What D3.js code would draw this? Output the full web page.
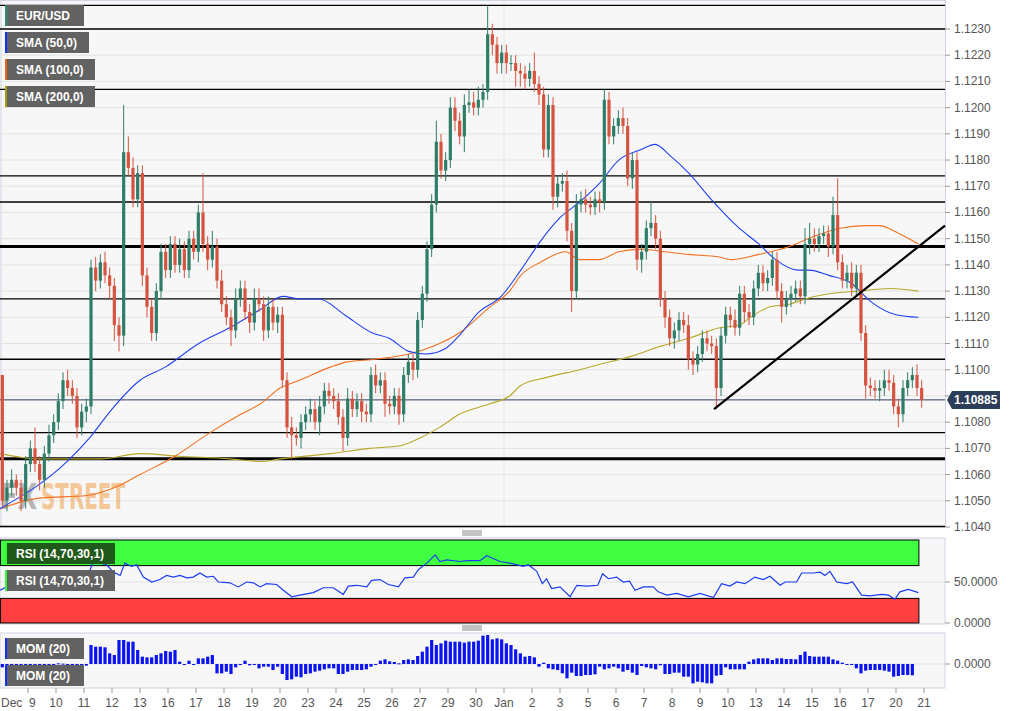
<!DOCTYPE html>
<html><head><meta charset="utf-8">
<script src="https://cdn.jsdelivr.net/npm/d3@7"></script>
<style>body{margin:0;background:#fff;}svg{display:block;font-family:"Liberation Sans",Arial,sans-serif;}</style>
</head><body><svg id="c" width="1016" height="711"></svg>
<script>
const firstOpen = 1.1098;
const closes = [
1.1050,1.1055,1.1058,1.1055,1.1050,1.1064,
1.1070,1.1064,1.1058,1.1068,1.1075,1.1080,
1.1088,1.1096,1.1093,1.1090,1.1078,1.1084,
1.1086,1.1139,1.1134,1.1141,1.1136,1.1132,
1.1117,1.1113,1.1183,1.1177,1.1165,1.1175,
1.1136,1.1124,1.1114,1.1130,1.1145,1.1138,
1.1148,1.1140,1.1146,1.1138,1.1150,1.1145,
1.1160,1.1148,1.1142,1.1147,1.1134,1.1125,
1.1120,1.1115,1.1127,1.1131,1.1122,1.1118,
1.1127,1.1125,1.1115,1.1124,1.1118,1.1121,
1.1096,1.1078,1.1075,1.1074,1.1080,1.1083,
1.1085,1.1080,1.1086,1.1092,1.1090,1.1088,
1.1082,1.1074,1.1089,1.1085,1.1088,1.1084,
1.1083,1.1098,1.1094,1.1096,1.1087,1.1086,
1.1090,1.1083,1.1098,1.1103,1.1100,1.1119,
1.1129,1.1146,1.1163,1.1187,1.1176,1.1180,
1.1200,1.1195,1.1189,1.1201,1.1202,1.1200,
1.1203,1.1206,1.1228,1.1224,1.1217,1.1221,
1.1217,1.1217,1.1214,1.1213,1.1211,1.1214,
1.1209,1.1205,1.1184,1.1201,1.1166,1.1171,
1.1172,1.1153,1.1130,1.1163,1.1165,1.1163,
1.1162,1.1165,1.1164,1.1203,1.1189,1.1193,
1.1196,1.1193,1.1173,1.1180,1.1142,1.1145,
1.1154,1.1156,1.1150,1.1127,1.1120,1.1112,
1.1115,1.1119,1.1117,1.1104,1.1102,1.1106,
1.1112,1.1110,1.1109,1.1093,1.1113,1.1121,
1.1119,1.1116,1.1129,1.1122,1.1120,1.1131,
1.1137,1.1133,1.1135,1.1142,1.1130,1.1124,
1.1127,1.1129,1.1131,1.1128,1.1148,1.1150,
1.1148,1.1151,1.1152,1.1147,1.1159,1.1141,
1.1134,1.1137,1.1131,1.1137,1.1114,1.1094,
1.1093,1.1092,1.1093,1.1096,1.1095,1.1086,
1.1083,1.1093,1.1096,1.1098,1.1093,1.10885];
const wickUpPips = [
0,3,4,2,3,3, 3,8,3,3,4,3, 3,3,4,3,3,3, 3,3,4,3,4,3, 3,3,18,6,4,3, 3,3,3,3,3,3,
3,3,4,3,3,3, 3,15,3,6,3,4, 3,3,4,3,3,3, 4,4,3,4,3,3, 3,3,4,3,3,3, 4,3,4,3,3,3,
3,3,4,3,3,3, 3,3,4,3,3,3, 3,3,3,3,3,3, 3,3,4,8,3,3, 4,4,3,4,5,4, 5,3,11,4,3,3,
3,3,3,3,3,3, 7,3,3,4,3,3, 3,4,3,4,3,4, 3,3,3,4,3,3, 3,4,3,3,3,3, 3,8,3,3,3,3,
3,3,3,4,3,3, 3,3,3,3,3,3, 3,4,3,3,3,3, 3,3,3,3,3,3, 3,3,3,3,6,6, 4,3,3,3,7,14,
3,3,4,3,3,3, 3,3,3,4,4,3, 3,3,3,3,4,3];
const wickDnPips = [
2,4,3,3,4,3, 3,3,4,3,3,3, 3,3,3,3,4,3, 4,3,4,3,3,5, 6,6,4,3,3,3, 4,4,3,3,3,3,
3,3,3,3,3,3, 4,3,4,3,3,3, 3,6,3,3,3,4, 3,3,4,3,3,4, 3,4,9,3,4,3, 3,3,5,3,3,3,
3,5,3,3,3,4, 3,3,3,3,5,3, 3,4,3,3,4,3, 3,3,3,3,3,4, 3,4,3,6,3,3, 3,3,3,4,4,4,
4,3,6,5,4,3, 3,4,3,3,5,4, 3,4,8,3,3,3, 3,3,4,3,3,3, 3,3,3,4,4,5, 3,3,4,3,4,3,
4,4,3,4,4,3, 3,3,3,8,3,3, 3,3,3,4,3,3, 3,3,3,3,3,6, 3,3,3,3,3,4, 3,3,3,4,3,3,
3,3,3,3,3,5, 3,3,4,3,3,3, 5,3,3,3,3,3];

const sma50Day = [0,2.4,3.2,4.0,5.0,5.9,7.1,8.2,9.3,10.1,10.7,11.4,12.3,13.3,13.9,14.6,15.2,15.9,16.4,17.1,17.9,18.6,19.3,20.0,20.7,21.4,22.1,22.9,23.4,23.9,24.6,25.4,26.4,27.1,27.7,28.5,28.9,29.6,30.4,31.1,32.0,32.8];
const sma50Val = [1.1047,1.1065,1.1074,1.1085,1.1096,1.1101,1.1110,1.1116,1.1123,1.1128,1.1127,1.1127,1.1121,1.1114,1.1112,1.1107,1.1106,1.1108,1.1113,1.1122,1.1128,1.1138,1.1149,1.1158,1.1164,1.1171,1.1180,1.1184,1.1186,1.1182,1.1175,1.1165,1.1154,1.1148,1.1142,1.1138,1.1138,1.1136,1.1133,1.1126,1.1121,1.1120];
const sma100Day = [0,1.4,3.1,4.3,5.0,6.25,7.5,8.6,9.3,10.0,10.7,11.8,12.4,13.4,14.6,15.7,16.4,17.5,18.2,18.6,19.3,20.2,20.7,21.4,22.1,22.9,23.75,24.6,25.7,26.1,27.1,28.2,29.1,30.0,30.9,31.4,32.1,32.8];
const sma100Val = [1.1047,1.1051,1.1052,1.1056,1.1060,1.1067,1.1076,1.1083,1.1087,1.1093,1.1096,1.1101,1.1103,1.1104,1.1106,1.1110,1.1114,1.1124,1.1130,1.1136,1.1141,1.1145,1.1142,1.1142,1.1145,1.1146,1.1145,1.1144,1.1143,1.1142,1.1144,1.1147,1.1151,1.1154,1.1155,1.1155,1.1152,1.1148];
const sma200Day = [0,1.4,3.6,5.0,6.4,8.2,9.3,10.0,11.8,13.2,14.3,15.0,15.7,16.4,17.5,18.2,18.6,19.5,20.7,21.4,22.5,23.6,24.6,25.7,26.4,26.8,27.5,28.2,28.75,29.6,30.7,31.8,32.8];
const sma200Val = [1.1068,1.1066,1.1066,1.1068,1.1067,1.1066,1.1065,1.1066,1.1068,1.1070,1.1071,1.1074,1.1078,1.1083,1.1087,1.1090,1.1094,1.1097,1.1100,1.1102,1.1105,1.1109,1.1112,1.1116,1.1117,1.1120,1.1124,1.1125,1.1127,1.1129,1.1130,1.1131,1.1130];

const levels = [1.1239,1.1230,1.1207,1.1174,1.1164,1.1127,1.1104,1.1076];
const thickLevels = [1.1147,1.1066];
const lastPrice = 1.10885;
const trendDay = [25.5,33.75];
const trendVal = [1.1085,1.1155];
const priceTicks = [1.1040,1.1050,1.1060,1.1070,1.1080,1.1090,1.1100,1.1110,1.1120,1.1130,1.1140,1.1150,1.1160,1.1170,1.1180,1.1190,1.1200,1.1210,1.1220,1.1230];

const rsiDay = [0,.24,.54,.71,1.07,1.43,1.79,2.14,2.38,2.62,2.86,3.15,3.31,3.57,3.81,4.05,4.29,4.46,4.70,4.88,5.12,5.42,5.71,5.95,6.19,6.43,6.67,6.90,7.14,7.38,7.62,7.80,8.21,8.51,8.81,9.05,9.29,9.52,9.88,10.12,10.42,10.71,11.19,11.55,11.90,12.26,12.44,12.74,13.10,13.27,13.57,13.87,14.23,14.46,14.76,14.94,15.24,15.54,15.71,15.95,16.43,16.67,17.14,17.38,17.86,18.21,18.69,18.87,19.17,19.37,19.52,19.70,20.0,20.36,20.60,20.95,21.35,21.52,21.73,22.02,22.26,22.48,22.68,22.98,23.33,23.51,23.81,24.17,24.58,25.0,25.48,25.77,26.07,26.31,26.61,26.96,27.26,27.5,27.86,28.04,28.45,28.63,29.05,29.29,29.46,29.64,29.88,30.24,30.45,30.77,31.07,31.49,31.73,31.96,32.14,32.44,32.80];
const rsiVal = [40,44,43,49,50,50,56,61,62,61,55,58,74,73,71,62,58,73,69,71,56,50,53,58,56,58,55,56,61,56,57,50,49,44,50,49,44,48,47,40,32,34,37,43,43,35,45,46,44,52,53,47,44,55,56,65,73,83,75,77,75,76,76,82,75,73,69,71,63,48,54,42,44,32,46,45,46,60,54,56,50,51,40,44,44,38,34,36,32,36,31,48,45,50,48,56,53,57,46,50,50,61,61,62,58,63,50,48,50,34,33,35,34,29,38,41,37];

const momVals = [-10,-10,-12,-12,-8,-3,-2,-2,-12,-6,-8,-8,2,1,-1,-3,-6,-13,-5,
57,52,52,50,32,27,72,72,67,67,42,22,20,20,27,32,39,37,42,7,0,10,0,17,17,22,27,
-28,-28,-23,-30,-10,-1,10,-4,-2,-13,-8,-8,-18,-8,-30,-48,-46,-38,-40,-30,-28,-23,-20,-16,-13,-13,-30,-30,-23,-18,-18,-18,-16,-8,0,
10,14,8,6,2,12,14,12,24,37,52,72,57,62,70,67,67,67,64,67,67,70,85,87,74,77,
74,62,57,44,32,22,24,20,-8,4,-13,-16,-18,-28,-43,-26,-36,-36,-33,-33,-31,-8,-16,-13,-8,-13,-23,-18,-26,-33,-6,-10,-13,-16,-4,-30,-30,-26,-26,-38,-38,-58,-53,-55,-58,-58,-35,-33,-10,-16,-16,-16,-16,7,14,17,17,17,12,17,17,15,15,14,27,37,24,22,22,22,22,14,10,4,-3,-2,-13,-28,-20,-18,-18,-18,-20,-23,-38,-36,-33,-33,-34];

const dayLabels = ["Dec  9","10","11","12","13","16","17","18","19","20","23","24","25","26","27","29","30","Jan","2","3","5","6","7","8","9","10","13","14","15","16","17","20","21"];

const svg = d3.select("#c");
const W = 945;
const x = d3.scaleLinear().domain([0,33.75]).range([0,W]);
const y = d3.scaleLinear().domain([1.1040,1.1230]).range([527,29]);
const GREEN="#2e7d68", RED="#d5533f", BG="#f7f7f7", GRID="#e3e3e3", BORDER="#cfd4e2";

svg.append("rect").attr("x",0).attr("y",0).attr("width",W).attr("height",528).attr("fill",BG);
svg.append("line").attr("x1",0).attr("x2",W+1).attr("y1",0.5).attr("y2",0.5).attr("stroke",BORDER);
svg.append("line").attr("x1",1).attr("x2",1).attr("y1",0).attr("y2",528).attr("stroke",BORDER);
svg.selectAll(".g").data(priceTicks).join("line").attr("x1",0).attr("x2",W).attr("y1",d=>y(d)).attr("y2",d=>y(d)).attr("stroke",GRID);
svg.append("line").attr("x1",x(18)).attr("x2",x(18)).attr("y1",0).attr("y2",527).attr("stroke","#e6e6e6");
svg.append("line").attr("x1",W+0.5).attr("x2",W+0.5).attr("y1",0).attr("y2",528).attr("stroke",BORDER);

const wmFont = "'DejaVu Sans Condensed','Liberation Sans Narrow',sans-serif";
svg.append("text").attr("x",0).attr("y",509).attr("font-size",35).attr("font-weight","bold").attr("font-family",wmFont)
  .attr("opacity",0.6).attr("fill","#8a8a8a").attr("textLength",37).attr("lengthAdjust","spacingAndGlyphs").text("FX");
svg.append("text").attr("x",41).attr("y",509).attr("font-size",35).attr("font-weight","bold").attr("font-family",wmFont)
  .attr("opacity",0.55).attr("fill","#f0a04b").attr("textLength",84).attr("lengthAdjust","spacingAndGlyphs").text("STREET");

svg.selectAll(".lv").data(levels).join("line").attr("x1",0).attr("x2",W).attr("y1",d=>y(d)).attr("y2",d=>y(d)).attr("stroke","#000").attr("stroke-width",1.3);
svg.selectAll(".tl").data(thickLevels).join("line").attr("x1",0).attr("x2",W).attr("y1",d=>y(d)).attr("y2",d=>y(d)).attr("stroke","#000").attr("stroke-width",3);
svg.append("line").attr("x1",0).attr("x2",W).attr("y1",y(1.1040)-0.5).attr("y2",y(1.1040)-0.5).attr("stroke","#000").attr("stroke-width",1.3);
svg.append("line").attr("x1",0).attr("x2",W).attr("y1",y(lastPrice)).attr("y2",y(lastPrice)).attr("stroke","#2c3e5a").attr("stroke-width",1);

function smaLine(days, vals, color){
  const pts = days.map((d,i)=>[x(d),y(vals[i])]);
  svg.append("path").attr("d",d3.line().curve(d3.curveMonotoneX)(pts)).attr("fill","none").attr("stroke",color).attr("stroke-width",1.1);
}
smaLine(sma200Day,sma200Val,"#b8a828");
smaLine(sma100Day,sma100Val,"#f07020");
smaLine(sma50Day,sma50Val,"#2040f0");

const candles = closes.map((c,i)=>{
  const o = i===0?firstOpen:closes[i-1];
  return {i,o,c,h:Math.max(o,c)+wickUpPips[i]*0.0001,l:Math.min(o,c)-wickDnPips[i]*0.0001};
});
const cx = i => x((i+0.5)/6);
const cg = svg.append("g");
cg.selectAll("line").data(candles).join("line").attr("x1",d=>cx(d.i)).attr("x2",d=>cx(d.i)).attr("y1",d=>y(d.h)).attr("y2",d=>y(d.l)).attr("stroke",d=>d.c>=d.o?GREEN:RED).attr("stroke-width",1);
cg.selectAll("rect").data(candles).join("rect").attr("x",d=>cx(d.i)-1.6).attr("width",3.2).attr("y",d=>y(Math.max(d.o,d.c))).attr("height",d=>Math.max(1,y(Math.min(d.o,d.c))-y(Math.max(d.o,d.c)))).attr("fill",d=>d.c>=d.o?GREEN:RED);

svg.append("line").attr("x1",x(trendDay[0])).attr("y1",y(trendVal[0])).attr("x2",x(trendDay[1])).attr("y2",y(trendVal[1])).attr("stroke","#000").attr("stroke-width",2.2);

const ax = svg.append("g").attr("font-size",12).attr("fill","#555");
priceTicks.forEach(p=>{
  ax.append("line").attr("x1",W).attr("x2",W+5).attr("y1",y(p)).attr("y2",y(p)).attr("stroke","#999");
  if (Math.abs(y(p)-y(lastPrice))>12) ax.append("text").attr("x",W+9).attr("y",y(p)+4).text(p.toFixed(4));
});
const ly = y(lastPrice);
svg.append("path").attr("d",`M${W+2},${ly} L${W+7},${ly-9} L${1000},${ly-9} L${1000},${ly+9} L${W+7},${ly+9} Z`).attr("fill","#2c3e5a");
svg.append("text").attr("x",W+9).attr("y",ly+4.5).attr("fill","#fff").attr("font-size",12).attr("font-weight","bold").text(lastPrice.toFixed(5));

function legend(yy,w,label,stripe,fill){
  svg.append("rect").attr("x",5).attr("y",yy).attr("width",w).attr("height",21).attr("fill",fill||"#626262");
  svg.append("rect").attr("x",5).attr("y",yy).attr("width",2).attr("height",21).attr("fill",stripe);
  svg.append("text").attr("x",16).attr("y",yy+15).attr("fill","#fff").attr("font-size",12).attr("font-weight","bold").text(label);
}
legend(5,79,"EUR/USD","#2e8b6e");
legend(32,84,"SMA (50,0)","#1030ff");
legend(59,90,"SMA (100,0)","#f06010");
legend(86,90,"SMA (200,0)","#a89a10");

[533,628].forEach(yy=>{[0,2,4].forEach(k=>svg.append("line").attr("x1",462).attr("x2",482).attr("y1",yy-2+k).attr("y2",yy-2+k).attr("stroke","#888"));});

const ry = d3.scaleLinear().domain([0,100]).range([623,541]);
svg.append("rect").attr("x",0).attr("y",538).attr("width",W).attr("height",86).attr("fill",BG).attr("stroke",BORDER);
svg.append("line").attr("x1",0).attr("x2",W).attr("y1",ry(50)).attr("y2",ry(50)).attr("stroke",GRID);
svg.append("rect").attr("x",0.5).attr("y",ry(100)-1).attr("width",x(32.8)).attr("height",ry(70)-ry(100)+1).attr("fill","#40ff40").attr("stroke","#000");
svg.append("rect").attr("x",0.5).attr("y",ry(30)).attr("width",x(32.8)).attr("height",ry(0)-ry(30)).attr("fill","#ff4040").attr("stroke","#000");
svg.append("path").attr("d",d3.line()(rsiDay.map((d,i)=>[x(d),ry(rsiVal[i])]))).attr("fill","none").attr("stroke","#1a3cf0").attr("stroke-width",1.2);
legend(543,110,"RSI (14,70,30,1)","#30ff30","#1f5a1a");
legend(570,110,"RSI (14,70,30,1)","#30ff30");
[[50,"50.0000"],[0,"0.0000"]].forEach(([v,t])=>{
  svg.append("line").attr("x1",W).attr("x2",W+5).attr("y1",ry(v)).attr("y2",ry(v)).attr("stroke","#999");
  svg.append("text").attr("x",W+9).attr("y",ry(v)+4).attr("font-size",12).attr("fill","#555").text(t);
});

const my = d3.scaleLinear().domain([-90,90]).range([694,634]);
svg.append("rect").attr("x",0).attr("y",633).attr("width",W).attr("height",55).attr("fill",BG).attr("stroke",BORDER);
svg.append("line").attr("x1",0).attr("x2",W).attr("y1",my(0)).attr("y2",my(0)).attr("stroke",GRID);
svg.selectAll(".mb").data(momVals).join("rect").attr("x",(d,i)=>cx(i)-1.6).attr("width",3.2)
  .attr("y",d=>d>=0?my(d):my(0)).attr("height",d=>Math.max(1,Math.abs(my(d)-my(0)))).attr("fill","#0a14f0");
legend(638,79,"MOM (20)","#1030ff");
legend(665,79,"MOM (20)","#1030ff");
svg.append("line").attr("x1",W).attr("x2",W+5).attr("y1",my(0)).attr("y2",my(0)).attr("stroke","#999");
svg.append("text").attr("x",W+9).attr("y",my(0)+4).attr("font-size",12).attr("fill","#555").text("0.0000");

dayLabels.forEach((t,k)=>{
  const xx = x(k+1);
  svg.append("line").attr("x1",xx).attr("x2",xx).attr("y1",688).attr("y2",693).attr("stroke","#999");
  svg.append("text").attr("x",k===0?1:xx).attr("y",707).attr("text-anchor",k===0?"start":"middle").attr("font-size",12).attr("fill","#555").attr("xml:space","preserve").text(t);
});
</script></body></html>
